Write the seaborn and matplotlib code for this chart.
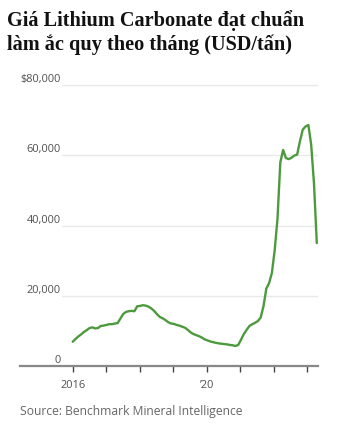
import matplotlib
matplotlib.use("Agg")
import matplotlib.pyplot as plt
import seaborn as sns
import pandas as pd
import numpy as np

# Monthly price, Jan 2016 .. Apr 2023 (USD/tonne)
price_2016 = [6900, 7700, 8400, 9000, 9700, 10200, 10800, 11000, 10700, 10800, 11400, 11500]
price_2017 = [11700, 11900, 11900, 12100, 12200, 13500, 14800, 15400, 15600, 15700, 15600, 17000]
price_2018 = [17100, 17300, 17200, 16900, 16400, 15700, 14800, 14000, 13600, 13100, 12500, 12100]
price_2019 = [12000, 11700, 11500, 11200, 10900, 10300, 9600, 9100, 8800, 8500, 8100, 7600]
price_2020 = [7300, 7000, 6800, 6600, 6450, 6350, 6250, 6150, 6000, 5900, 5700, 6000]
price_2021 = [7500, 9100, 10300, 11400, 11900, 12300, 12800, 13800, 17000, 22000, 23600, 26500]
price_2022 = [33000, 42000, 58000, 61500, 59200, 58900, 59300, 59900, 60200, 64000, 67300, 68200]
price_2023 = [68600, 63000, 52000, 35000]

values = price_2016 + price_2017 + price_2018 + price_2019 + price_2020 + price_2021 + price_2022 + price_2023
start_year = 2016
x_ticks = [2016, 2017, 2018, 2019, 2020, 2021, 2022, 2023]
x_labels = ["2016", "", "", "", "\u201920", "", "", ""]
y_ticks = [0, 20000, 40000, 60000, 80000]
y_labels = ["0", "20,000", "40,000", "60,000", "$80,000"]

title = "Giá Lithium Carbonate đạt chuẩn\nlàm ắc quy theo tháng (USD/tấn)"
source = "Source: Benchmark Mineral Intelligence"

df = pd.DataFrame({"t": start_year + np.arange(len(values)) / 12.0 * 1.005, "price": values})

sns.set_theme(style="white")
plt.rcParams["font.family"] = ["Open Sans", "DejaVu Sans"]

W, H = 341, 434
fig = plt.figure(figsize=(W / 100, H / 100), dpi=100)
ax_left, ax_right, ax_top, ax_bottom = 62, 318, 80, 366
ax = fig.add_axes([ax_left / W, (H - ax_bottom) / H, (ax_right - ax_left) / W, (ax_bottom - ax_top) / H])

px_per_year = 33.5
x0 = 2016 - (72.7 - ax_left) / px_per_year
x1 = 2016 + (ax_right - 72.7) / px_per_year
val_per_px = 80000 / 281
ax.set_xlim(x0, x1)
ax.set_ylim(0, (ax_bottom - ax_top) * val_per_px)

for yt in y_ticks[1:]:
    ax.axhline(yt, color="#e9e9e9", lw=1.0, zorder=0)

sns.lineplot(data=df, x="t", y="price", ax=ax, color="#4c9a3d", lw=1.7)

for s in ["top", "right", "left"]:
    ax.spines[s].set_visible(False)
ax.spines["bottom"].set_color("#888888")
ax.spines["bottom"].set_linewidth(1.6)
ax.spines["bottom"].set_bounds(2016 - (72.7 - 20) / px_per_year, x1)

ax.set_xticks(x_ticks)
ax.set_xticklabels(x_labels)
ax.set_yticks(y_ticks)
ax.set_yticklabels(y_labels)
ax.tick_params(axis="x", length=4, width=1, color="#444444", direction="out", pad=6,
               labelsize=7.9, labelcolor="#505050", bottom=True)
ax.tick_params(axis="y", length=0, pad=1, labelsize=7.9, labelcolor="#505050", left=True)
for lab in ax.get_yticklabels():
    lab.set_va("bottom")
ax.set_xlabel("")
ax.set_ylabel("")

fig.text(7 / W, 1 - 10 / H, title, ha="left", va="top", family=["Liberation Serif"],
         fontweight="bold", fontsize=14.6, color="#111111", linespacing=1.22)
fig.text(20 / W, 1 - 411 / H, source, ha="left", va="center", fontsize=8.7,
         color="#666666", family=["Open Sans", "DejaVu Sans"])

fig.savefig("out.png", dpi=100)
